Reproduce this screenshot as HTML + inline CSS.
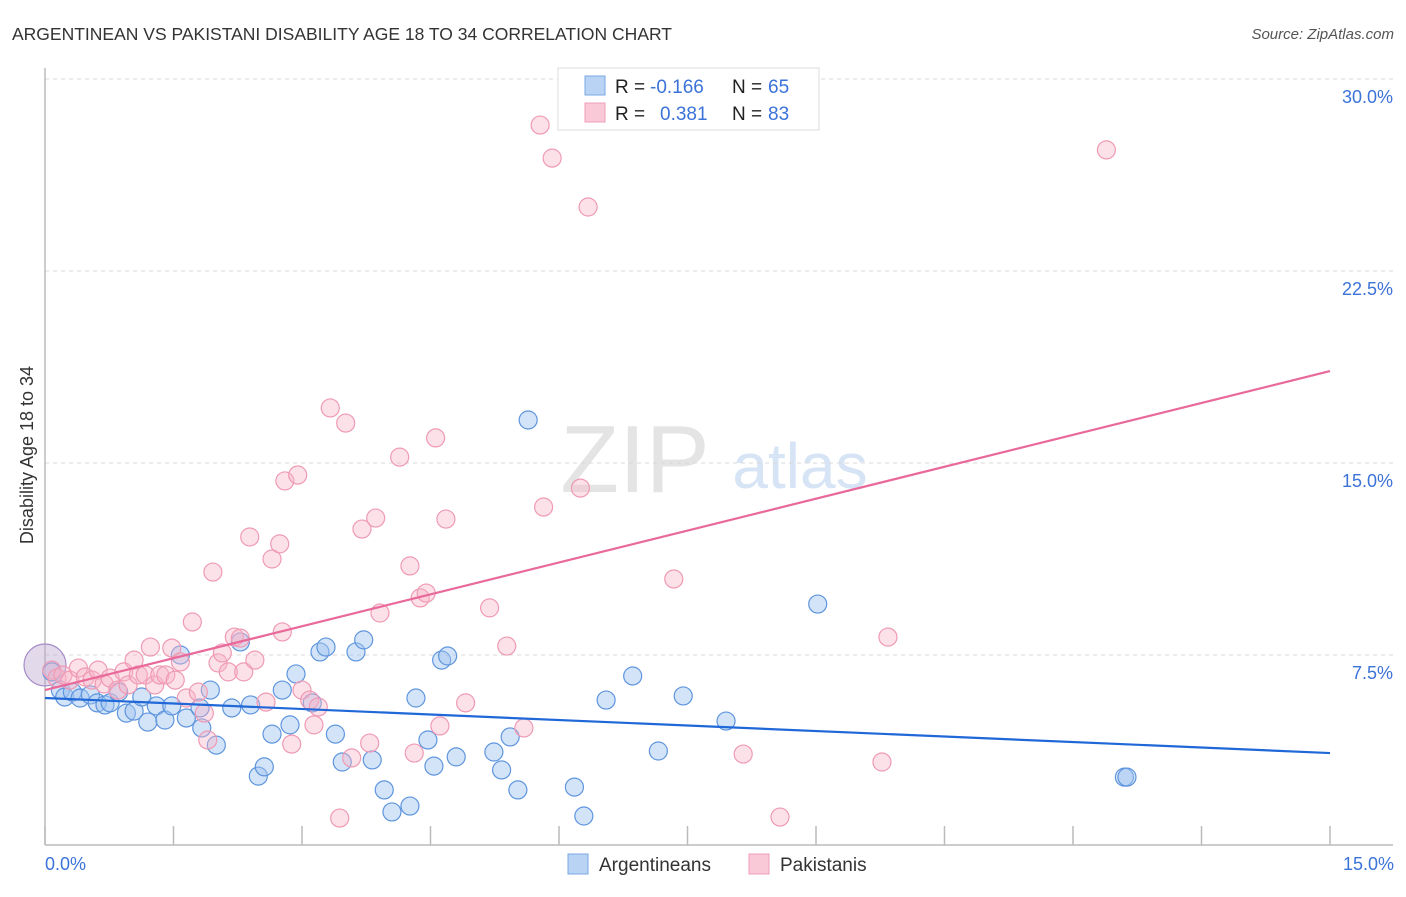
<!DOCTYPE html>
<html><head><meta charset="utf-8"><style>
body{margin:0;background:#fff;font-family:"Liberation Sans",sans-serif}
svg text{font-family:"Liberation Sans",sans-serif}
</style></head><body>
<svg id="chart" width="1406" height="892" xmlns="http://www.w3.org/2000/svg">
<text x="12" y="40" font-size="17.5" fill="#333">ARGENTINEAN VS PAKISTANI DISABILITY AGE 18 TO 34 CORRELATION CHART</text>
<text x="1394" y="39" font-size="15" fill="#555" text-anchor="end" font-style="italic">Source: ZipAtlas.com</text>
<text x="635" y="492" font-size="96" fill="#e4e4e4" font-family="Liberation Serif" text-anchor="middle">ZIP</text>
<text x="800" y="488" font-size="64" fill="#d6e4f5" text-anchor="middle">atlas</text>
<g id="grid"></g><g id="axes"></g><g id="pts"></g><g id="lines"></g>
<text transform="translate(33,455) rotate(-90)" font-size="18" fill="#333" text-anchor="middle">Disability Age 18 to 34</text>
<text x="45" y="870" font-size="18" fill="#3b73d9">0.0%</text>
<text x="1394" y="870" font-size="18" fill="#3b73d9" text-anchor="end">15.0%</text>
<g>
<rect x="558" y="68" width="261" height="62" fill="#fff" stroke="#ddd"/>
<rect x="585" y="76" width="20" height="19" fill="#b8d3f4" stroke="#7aa7e6"/>
<rect x="585" y="103" width="20" height="19" fill="#f9c9d7" stroke="#ef9fb8"/>
<text x="615" y="93" font-size="19" fill="#222">R = </text><text x="650" y="93" font-size="19" fill="#3b73d9">-0.166</text>
<text x="732" y="93" font-size="19" fill="#222">N = </text><text x="768" y="93" font-size="19" fill="#3b73d9">65</text>
<text x="615" y="120" font-size="19" fill="#222">R = </text><text x="660" y="120" font-size="19" fill="#3b73d9">0.381</text>
<text x="732" y="120" font-size="19" fill="#222">N = </text><text x="768" y="120" font-size="19" fill="#3b73d9">83</text>
</g>
<g>
<rect x="568" y="854" width="20" height="20" fill="#b8d3f4" stroke="#7aa7e6"/>
<text x="599" y="871" font-size="19" fill="#333">Argentineans</text>
<rect x="749" y="854" width="20" height="20" fill="#f9c9d7" stroke="#ef9fb8"/>
<text x="780" y="871" font-size="19" fill="#333">Pakistanis</text>
</g>
</svg>
<script>
const yTicks=[7.5,15,22.5,30];
const yTickLabels=["7.5%","15.0%","22.5%","30.0%"];
const xTicks=[0,1.5,3,4.5,6,7.5,9,10.5,12,13.5,15];
const blueX=[0.08,0.18,0.23,0.32,0.41,0.53,0.61,0.70,0.76,0.86,0.95,1.04,1.13,1.20,1.30,1.40,1.48,1.58,1.65,1.81,1.83,1.93,2.00,2.18,2.28,2.40,2.49,2.56,2.65,2.77,2.86,2.93,3.12,3.21,3.28,3.39,3.47,3.63,3.72,3.82,3.96,4.05,4.26,4.33,4.47,4.54,4.63,4.70,4.80,5.24,5.33,5.43,5.52,5.64,6.18,6.29,6.55,6.86,7.16,7.45,7.95,9.02,12.60,12.63];
const blueY=[6.84,6.13,5.86,6.05,5.82,5.94,5.63,5.55,5.63,6.05,5.23,5.31,5.86,4.88,5.51,4.96,5.51,7.50,5.04,5.43,4.65,6.13,3.98,5.43,8.01,5.55,2.77,3.13,4.41,6.13,4.77,6.76,5.63,7.62,7.81,4.41,3.32,7.62,8.09,3.40,2.23,1.37,1.60,5.82,4.18,3.16,7.30,7.46,3.52,3.71,3.01,4.30,2.23,16.68,2.34,1.21,5.74,6.68,3.75,5.90,4.92,9.49,2.73,2.73];
const pinkX=[0.08,0.14,0.21,0.29,0.39,0.47,0.55,0.62,0.69,0.76,0.85,0.92,0.97,1.04,1.09,1.17,1.23,1.28,1.34,1.41,1.48,1.52,1.58,1.65,1.72,1.79,1.86,1.90,1.96,2.02,2.07,2.14,2.21,2.28,2.32,2.39,2.45,2.58,2.65,2.74,2.77,2.80,2.88,2.95,3.00,3.09,3.14,3.19,3.33,3.44,3.51,3.58,3.70,3.79,3.86,3.91,4.14,4.26,4.31,4.38,4.45,4.56,4.61,4.68,4.91,5.19,5.39,5.59,5.78,5.82,5.92,6.25,6.34,7.34,8.15,8.58,9.77,9.84,12.39];
const pinkY=[6.91,6.60,6.72,6.52,6.99,6.64,6.52,6.91,6.37,6.60,6.13,6.84,6.33,7.30,6.72,6.72,7.81,6.33,6.72,6.72,7.77,6.52,7.23,5.82,8.79,6.05,5.23,4.18,10.74,7.19,7.58,6.84,8.20,8.16,6.84,12.11,7.30,5.66,11.25,11.84,8.40,14.30,4.02,14.53,6.13,5.74,4.77,5.47,17.15,1.13,16.56,3.48,12.42,4.06,12.85,9.14,15.23,10.98,3.67,9.73,9.92,15.98,4.73,12.81,5.63,9.34,7.85,4.65,28.20,13.28,26.91,14.02,25.00,10.47,3.63,1.17,3.32,8.20,27.23];
const bigPoint=[0,7.11];
const blueTrend=[5.82,3.67];
const pinkTrend=[6.13,18.59];
const NS="http://www.w3.org/2000/svg";
const X=v=>45+v/15*1285, Y=v=>847-v/7.5*192;
function mk(t,a,p){const e=document.createElementNS(NS,t);for(const k in a)e.setAttribute(k,a[k]);p.appendChild(e);return e;}
const g=document.getElementById('grid'),ax=document.getElementById('axes'),pts=document.getElementById('pts'),ln=document.getElementById('lines');
yTicks.forEach((t,i)=>{
 const l=mk('line',{x1:45,x2:1393,y1:Y(t),y2:Y(t),stroke:'#d8d8d8','stroke-dasharray':'4,4'},g);
 
 
 const tx=mk('text',{x:1393,y:Y(t)+24,'font-size':18,fill:'#3b73d9','text-anchor':'end'},g);
 tx.textContent=yTickLabels[i];
 
 
});
const ya=mk('line',{x1:45,x2:45,y1:68,y2:845,stroke:'#bbb','stroke-width':1.5},ax);


const xa=mk('line',{x1:45,x2:1393,y1:845,y2:845,stroke:'#bbb','stroke-width':1.5},ax);


xTicks.forEach(t=>{const k=mk('line',{x1:X(t),x2:X(t),y1:826,y2:845,stroke:'#bbb','stroke-width':1.5},ax);
 
 });
function dot(x,y,r,c,name){const e=mk('circle',{cx:X(x),cy:Y(y),r:r,fill:c[0],stroke:c[1],'stroke-width':1.2},pts);
 
 }
const BC=['rgba(160,196,240,0.45)','#5e95de'],PC=['rgba(248,180,200,0.4)','#ef9ab4'];
dot(bigPoint[0],bigPoint[1],21,['rgba(190,170,210,0.45)','#a58cc8'],'big-point');
blueX.forEach((x,i)=>dot(x,blueY[i],9,BC,'argentinean-point'));
pinkX.forEach((x,i)=>dot(x,pinkY[i],9,PC,'pakistani-point'));
const bl=mk('line',{x1:X(0),y1:Y(blueTrend[0]),x2:X(15),y2:Y(blueTrend[1]),stroke:'#2068d8','stroke-width':2.2},ln);


const pl=mk('line',{x1:X(0),y1:Y(pinkTrend[0]),x2:X(15),y2:Y(pinkTrend[1]),stroke:'#e8699a','stroke-width':2.2},ln);


</script>
</body></html>
